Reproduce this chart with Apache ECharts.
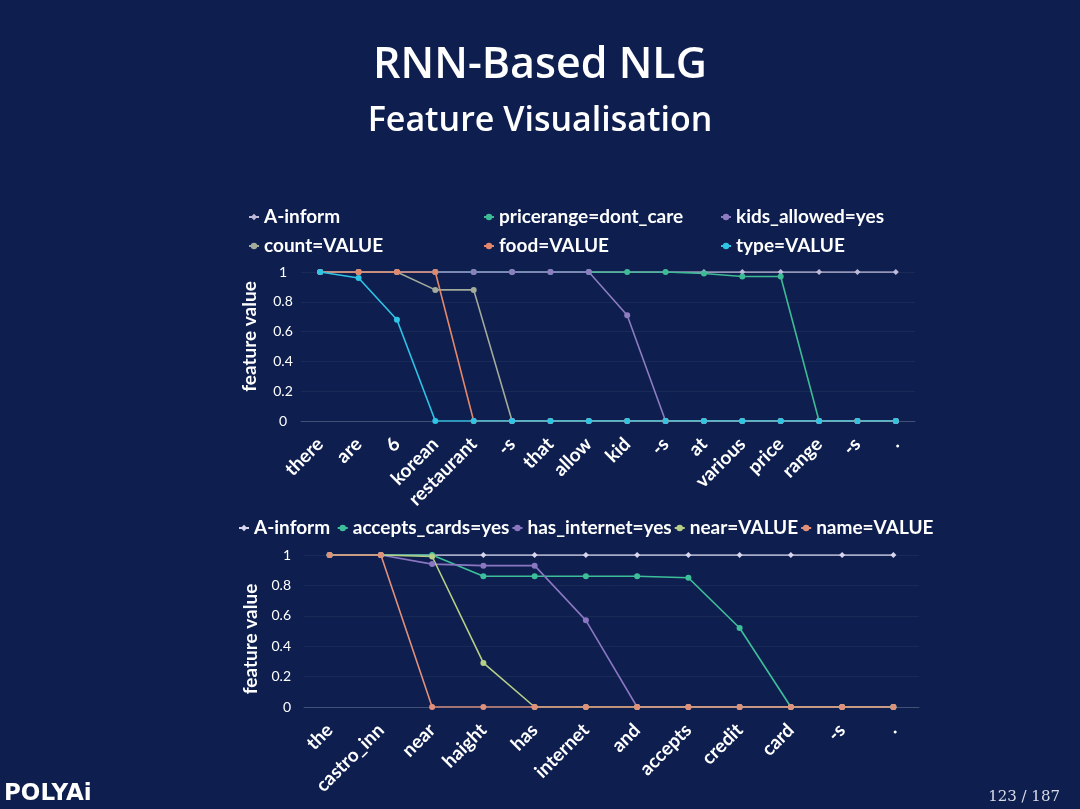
<!DOCTYPE html>
<html>
<head>
<meta charset="utf-8">
<script src="https://cdn.jsdelivr.net/npm/echarts@6/dist/echarts.min.js"></script>
<style>
html,body{margin:0;padding:0;background:#0e1f4f;}
#c{width:1080px;height:809px;}
</style>
</head>
<body>
<div id="c"></div>
<script>
// ---- top chart data ----
const topCategories = ['there','are','6','korean','restaurant','-s','that','allow','kid','-s','at','various','price','range','-s','.'];
const topAInform      = [1,1,1,1,1,1,1,1,1,1,1,1,1,1,1,1];
const topPricerange   = [1,1,1,1,1,1,1,1,1,1,0.99,0.97,0.97,0,0,0];
const topKidsAllowed  = [1,1,1,1,1,1,1,1,0.71,0,0,0,0,0,0,0];
const topCount        = [1,1,1,0.88,0.88,0,0,0,0,0,0,0,0,0,0,0];
const topFood         = [1,1,1,1,0,0,0,0,0,0,0,0,0,0,0,0];
const topType         = [1,0.96,0.68,0,0,0,0,0,0,0,0,0,0,0,0,0];

// ---- bottom chart data ----
const botCategories = ['the','castro_inn','near','haight','has','internet','and','accepts','credit','card','-s','.'];
const botAInform      = [1,1,1,1,1,1,1,1,1,1,1,1];
const botAcceptsCards = [1,1,1,0.86,0.86,0.86,0.86,0.85,0.52,0,0,0];
const botHasInternet  = [1,1,0.94,0.93,0.93,0.57,0,0,0,0,0,0];
const botNear         = [1,1,0.99,0.29,0,0,0,0,0,0,0,0];
const botName         = [1,1,0,0,0,0,0,0,0,0,0,0];

const yTicks = {min:0, max:1, interval:0.2};

const chart = echarts.init(document.getElementById('c'));
const FONT = 'Lato';
const white = '#ffffff';

function xAxis(gridIndex, data){
  return {
    type:'category', gridIndex, data, boundaryGap:true,
    axisLine:{show:true, lineStyle:{color:'rgba(255,255,255,0.18)'}},
    axisTick:{show:false},
    axisLabel:{color:white, fontFamily:FONT, fontWeight:'bold', fontSize:19, rotate:45, margin:20, interval:0}
  };
}
function yAxis(gridIndex, labelAlign, labelMargin, namePad){
  return {
    type:'value', gridIndex, min:yTicks.min, max:yTicks.max, interval:yTicks.interval,
    name:'feature value', nameLocation:'middle', nameGap:42, nameRotate:90,
    nameTextStyle:{color:white, fontFamily:FONT, fontWeight:'bold', fontSize:19, padding:namePad},
    axisLine:{show:false}, axisTick:{show:false},
    axisLabel:{color:white, fontFamily:FONT, fontSize:14, margin:labelMargin, align:labelAlign},
    splitLine:{show:true, lineStyle:{color:'rgba(255,255,255,0.05)'}}
  };
}
function line(name, data, color, xi, symbol){
  return {
    name, type:'line', data, xAxisIndex:xi, yAxisIndex:xi,
    symbol: symbol || 'circle', symbolSize: 6,
    showSymbol:true,
    lineStyle:{color, width:1.6}, itemStyle:{color},
    emphasis:{disabled:true}
  };
}
const legText = {color:white, fontFamily:FONT, fontWeight:'bold', fontSize:19, lineHeight:20};

const c = {
  aInform:'#bdbad8', pricerange:'#3dbb95', kids:'#8d7cc0', count:'#a3ab9a', food:'#e2876b', type:'#2ec4e6',
  bAInform:'#d8d6ee', accepts:'#3dc09a', internet:'#8b76c2', near:'#b6cf86', name:'#e0907a'
};

chart.setOption({
  backgroundColor:'#0e1f4f',
  animation:false,
  title:[
    {text:'RNN-Based NLG', left:'center', top:39, textStyle:{color:white, fontFamily:'Open Sans', fontWeight:600, fontSize:43}},
    {text:'Feature Visualisation', left:'center', top:99, textStyle:{color:white, fontFamily:'Open Sans', fontWeight:600, fontSize:34}},
    {text:'123 / 187', right:15, top:785, textStyle:{color:'#d8dbe6', fontFamily:'DejaVu Serif', fontWeight:'normal', fontSize:15}},
    {text:'POLYAi', left:-1, top:778, textStyle:{color:white, fontFamily:'DejaVu Sans', fontWeight:'bold', fontSize:23}}
  ],
  legend:[
    {orient:'vertical', left:243, top:202, itemGap:9, itemWidth:10, itemHeight:8, data:['A-inform','count=VALUE'], textStyle:legText},
    {orient:'vertical', left:478, top:202, itemGap:9, itemWidth:10, itemHeight:8, data:['pricerange=dont_care','food=VALUE'], textStyle:legText},
    {orient:'vertical', left:715, top:202, itemGap:9, itemWidth:10, itemHeight:8, data:['kids_allowed=yes','type=VALUE'], textStyle:legText},
    {orient:'horizontal', left:233, top:513, itemGap:2, itemWidth:10, itemHeight:8,
      data:[{name:'A-inform '}, 'accepts_cards=yes', 'has_internet=yes', 'near=VALUE', 'name=VALUE'], textStyle:legText}
  ],
  grid:[
    {left:301, width:614, top:272, height:149},
    {left:304, width:615, top:555, height:152}
  ],
  xAxis:[xAxis(0, topCategories), xAxis(1, botCategories)],
  yAxis:[yAxis(0, 'center', 18, [0,0,0,20]), yAxis(1, 'right', 13, [0,16,0,0])],
  series:[
    line('A-inform', topAInform, c.aInform, 0, 'diamond'),
    line('pricerange=dont_care', topPricerange, c.pricerange, 0),
    line('kids_allowed=yes', topKidsAllowed, c.kids, 0),
    line('count=VALUE', topCount, c.count, 0),
    line('food=VALUE', topFood, c.food, 0),
    line('type=VALUE', topType, c.type, 0),
    line('A-inform ', botAInform, c.bAInform, 1, 'diamond'),
    line('accepts_cards=yes', botAcceptsCards, c.accepts, 1),
    line('has_internet=yes', botHasInternet, c.internet, 1),
    line('near=VALUE', botNear, c.near, 1),
    line('name=VALUE', botName, c.name, 1)
  ]
});
</script>
</body>
</html>
